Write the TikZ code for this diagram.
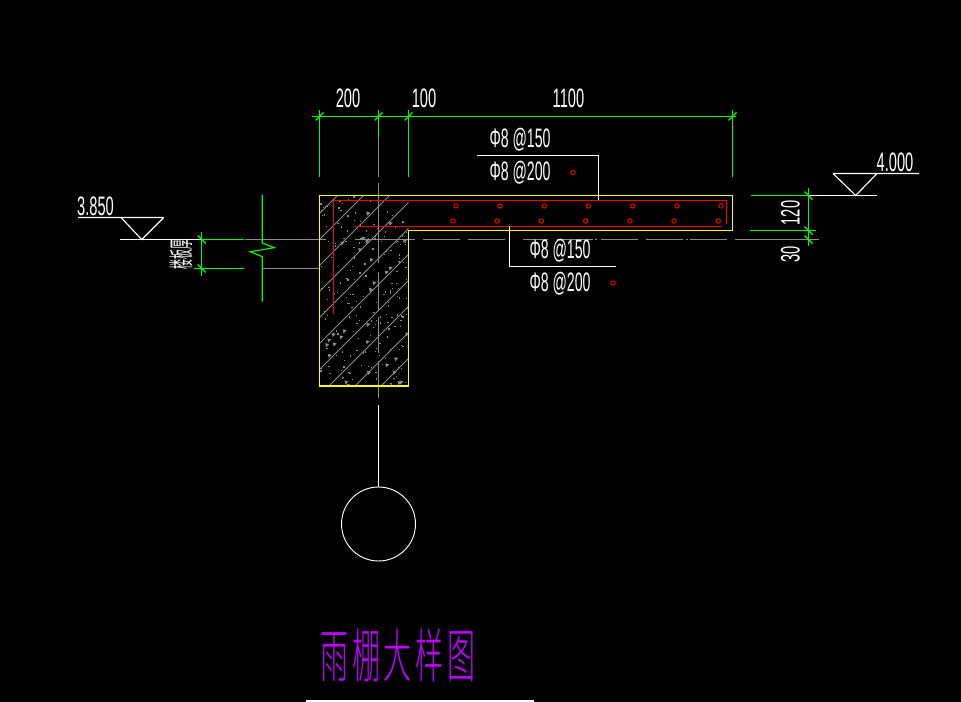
\documentclass[tikz,border=0pt]{standalone}
\usepackage{graphicx}
\usepackage{fontspec}
\setmainfont{Liberation Sans}
\newfontfamily\cjk[LetterSpace=14]{Noto Sans CJK SC Light}
\newfontfamily\cjksmall{Noto Sans CJK SC}
\newcommand\cad[1]{\scalebox{.55}[1]{\fontsize{20}{20}\selectfont #1}}
\newcommand\cadbar[1]{\scalebox{.53}[1]{\fontsize{20}{20}\selectfont #1}}
\definecolor{cadgreen}{RGB}{0,255,0}
\definecolor{cadyellow}{RGB}{255,255,0}
\definecolor{cadred}{RGB}{255,0,0}
\definecolor{cadgray}{RGB}{140,140,140}
\definecolor{cadpurple}{RGB}{190,0,255}
\tikzset{
  gl/.style={draw=cadgreen,line width=.85pt},
  yl/.style={draw=cadyellow,line width=1pt},
  rl/.style={draw=cadred,line width=1pt},
  wl/.style={draw=white,line width=.85pt},
  grl/.style={draw=cadgray,line width=.85pt},
  hatchline/.style={draw=cadgray,line width=.6pt},
  rebar/.style={draw=cadred,line width=.7pt},
  tag/.style={text=white,inner sep=0pt,anchor=center},
}
\begin{document}
\begin{tikzpicture}[x=.75pt,y=-.75pt]
\useasboundingbox (0,0) rectangle (961,702);
\fill[black] (0,0) rectangle (961,702);

% hatching and stipple in the beam
\begin{scope}
  \clip (319.5,195.5) rectangle (408.5,386);
  \foreach \s in {533,559,...,793} {
    \draw[hatchline] (300,\s-300) -- (430,\s-430);
  }
  \pgfmathsetseed{4711}
  \foreach \i in {1,...,190} {
    \pgfmathsetmacro\px{320+88*rnd}
    \pgfmathsetmacro\py{196+190*rnd}
    \fill[cadgray] (\px,\py) rectangle (\px+1.3,\py+1.3);
  }
  \foreach \i in {1,...,30} {
    \pgfmathsetmacro\px{322+84*rnd}
    \pgfmathsetmacro\py{198+186*rnd}
    \fill[cadgray] (\px,\py) -- (\px+4,\py+1) -- (\px+1,\py+4) -- cycle;
  }
\end{scope}

% axes
\foreach \a/\b in {245/326,355/415,423/460,468/505,523/548,557/593,595/597,601/638,646/683,686/688,690/727,735/819} {
  \draw[grl] (\a,239.5) -- (\b,239.5);
}
\draw[grl] (262,268.5) -- (319.5,268.5);
\foreach \a/\b in {138/177,183/263,272/311,317/353,361/398} {
  \draw[grl] (378.5,\a) -- (378.5,\b);
}

% concrete outline
\draw[yl] (319.5,195.5) -- (732.5,195.5) -- (732.5,230.5) -- (408.5,230.5) -- (408.5,386) -- (319.5,386) -- cycle;

% reinforcement
\draw[rl] (333.5,314) -- (333.5,200.5) -- (726.5,200.5) -- (726.5,224);
\draw[rl] (355,226.5) -- (722,226.5);
\foreach \p in {456,500,544.3,588.3,632.7,677,721} { \draw[rebar] (\p,206) circle[radius=2.2]; }
\foreach \p in {453,497.3,541.3,585.7,630,674,718.3} { \draw[rebar] (\p,221) circle[radius=2.2]; }
\draw[rebar] (573,172.5) circle[radius=2.2];
\draw[rebar] (613,283) circle[radius=2.2];

% top dimension line
\draw[gl] (312,116.5) -- (736,116.5);
\foreach \x in {319.5,378.5,408.5,732.5} {
  \draw[gl] (\x-4,120.5) -- (\x+4,112.5);
}
\draw[gl] (319.5,110) -- (319.5,177);
\draw[gl] (378.5,110) -- (378.5,138);
\draw[gl] (408.5,110) -- (408.5,177);
\draw[gl] (732.5,110) -- (732.5,177);
\node[tag] (d200) at (348,98.5) {\cad{200}};
\node[tag] (d100) at (424,98.5) {\cad{100}};
\node[tag] (d1100) at (568.5,98.5) {\cad{1100}};

% left level mark
\draw[wl] (78,217.5) -- (163.7,217.5) (121,217.5) -- (141.7,239.5) -- (163.7,217.5);
\draw[wl] (120,239.5) -- (202,239.5);
\node[tag] (lvlL) at (95.5,206) {\cad{3.850}};

% slab thickness dimension
\draw[gl] (202,239.5) -- (244,239.5);
\draw[gl] (194,268.5) -- (244,268.5);
\draw[gl] (201.7,232) -- (201.7,275.6);
\foreach \y in {239.5,268.5} { \draw[gl] (197.7,\y-4) -- (205.7,\y+4); }
\node[tag,rotate=90] (slab) at (181,254.5) {\scalebox{.68}[1.7]{\cjksmall\fontsize{11}{11}\selectfont 楼板厚}};

% break line
\draw[gl] (262.3,195) -- (262.3,243) -- (274.3,247.7) -- (250.3,251.7) -- (262.3,256.7) -- (262.3,301.7);

% right level mark
\draw[wl] (833,173.5) -- (919,173.5) (833,173.5) -- (855.7,195.5) -- (877,173.5);
\draw[wl] (808.5,195.5) -- (877,195.5);
\node[tag] (lvlR) at (895,162) {\cad{4.000}};
\draw[gl] (751,195.5) -- (808.5,195.5);
\draw[gl] (750,230.5) -- (816,230.5);
\draw[gl] (808.5,188) -- (808.5,246);
\foreach \y in {195.5,230.5,239.5} { \draw[gl] (804.5,\y-4) -- (812.5,\y+4); }
\node[tag,rotate=90] (d120) at (790.5,213) {\cad{120}};
\node[tag,rotate=90] (d30) at (790.5,254) {\cad{30}};

% leaders and rebar labels
\coordinate (topend) at (598.5,200);
\coordinate (botend) at (509.5,226.5);
\draw[wl] (477,155.5) -- (598.5,155.5) -- (topend);
\draw[wl] (botend) -- (509.5,266.5) -- (616,266.5);
\node[tag] (t1) at (520,139.5) {\cadbar{Φ8 @150}};
\node[tag] (t2) at (520,172.5) {\cadbar{Φ8 @200}};
\node[tag] (b1) at (560,250.5) {\cadbar{Φ8 @150}};
\node[tag] (b2) at (560,283.5) {\cadbar{Φ8 @200}};

% axis bubble
\node[draw=white,line width=.7pt,circle,minimum size=55.5pt,inner sep=0pt] (bubble) at (378.5,524) {};
\coordinate (axtop) at (378.5,405);
\draw[wl] (axtop) -- (bubble.north);

% title
\node[inner sep=0pt,text=cadpurple] (title) at (398,655) {\scalebox{.6}[1.25]{\cjk\fontsize{35}{35}\selectfont 雨棚大样图}};

% bottom edge
\draw[wl] (306,701) -- (534,701);
\end{tikzpicture}
\end{document}
